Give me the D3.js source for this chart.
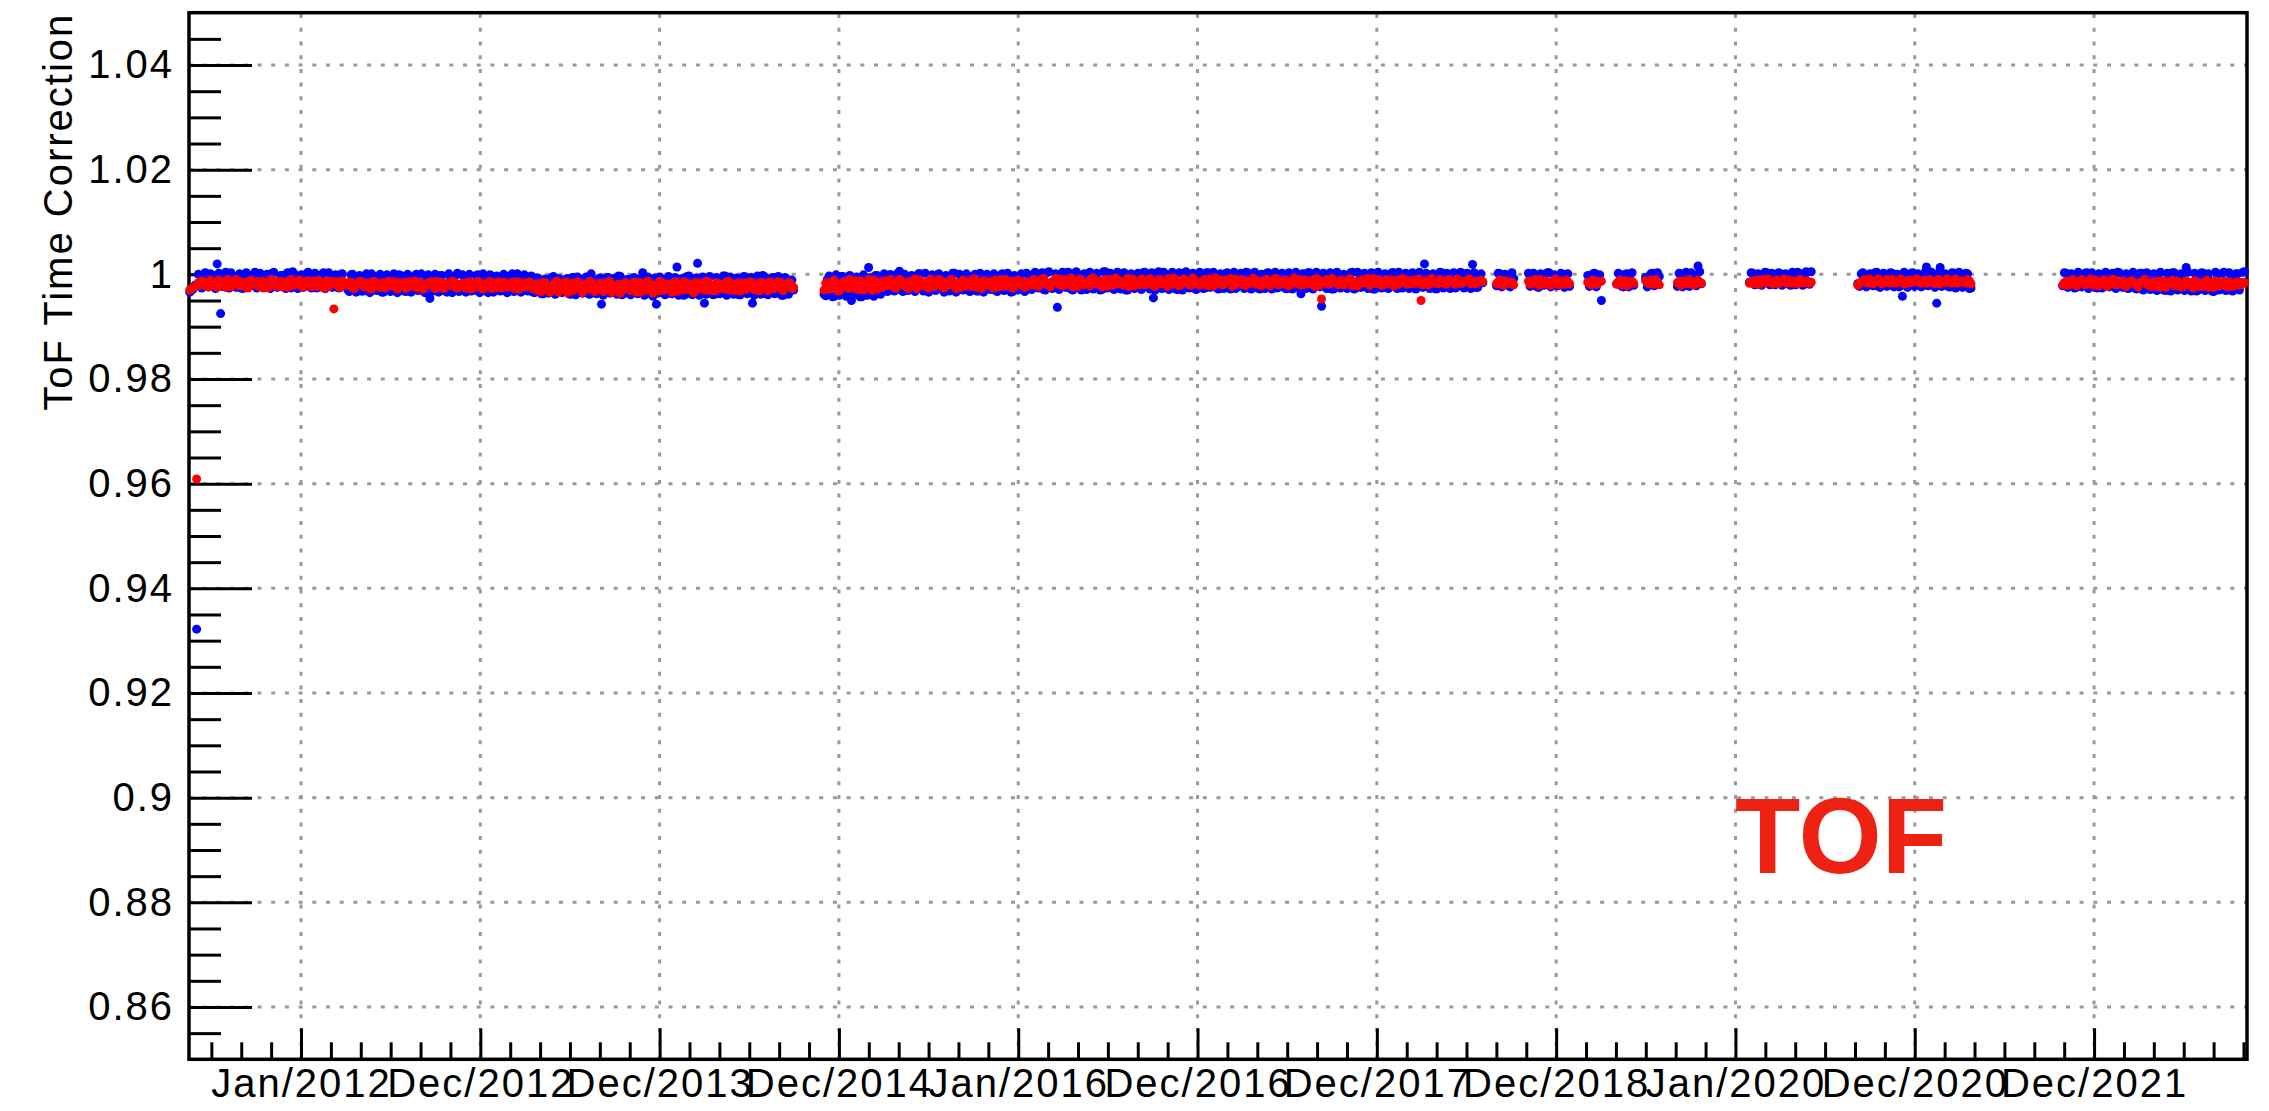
<!DOCTYPE html>
<html lang="en">

<head>
    <meta charset="UTF-8">
    <title>ToF Time Correction</title>
    <script src="https://cdnjs.cloudflare.com/ajax/libs/d3/7.8.5/d3.min.js" type="text/JavaScript"></script>
    <style>
        body { margin: 0; background: #fff; }
        svg { display: block; }
        text { font-family: "Liberation Sans", Arial, Helvetica, sans-serif; }
    </style>
</head>

<body>
    <svg width="2269" height="1111"></svg>
    <script>
        // axis ticks
        const xTickStart = "2012-01-01T00:00:00Z"
        const xTickStepDays = 365.8
        const xTickLabels = ["Jan/2012", "Dec/2012", "Dec/2013", "Dec/2014", "Jan/2016", "Dec/2016",
            "Dec/2017", "Dec/2018", "Jan/2020", "Dec/2020", "Dec/2021"]
        const yTicks = [0.86, 0.88, 0.9, 0.92, 0.94, 0.96, 0.98, 1, 1.02, 1.04]
        const yTickLabels = ["0.86", "0.88", "0.9", "0.92", "0.94", "0.96", "0.98", "1", "1.02", "1.04"]

        // data taking periods: one point per week, plus a mid-week point
        const runStarts = ["2011-05-19", "2014-12-03", "2018-09-05", "2018-11-09", "2019-03-10", "2019-05-08",
            "2019-07-06", "2019-09-09", "2020-02-03", "2020-09-11", "2021-11-03"]
        const stepDays = 7

        // blue series, weekly points
        const blue1 = [0.9966, 0.9972, 0.9322, 0.9981, 0.9995, 0.9978, 1.0001, 0.9986, 1.0020, 0.9925,
            0.9999, 0.9976, 1.0003, 0.9984, 0.9993, 0.9974, 1.0000, 0.9989, 0.9979, 1.0004,
            0.9982, 0.9997, 0.9975, 0.9991, 1.0002, 0.9978, 0.9987, 0.9998, 0.9973, 0.9994,
            1.0005, 0.9980, 0.9990, 0.9976, 1.0001, 0.9985, 0.9996, 0.9974, 0.9992, 1.0003,
            0.9979, 0.9988, 0.9997, 0.9975, 1.0000, 0.9983, 0.9971, 0.9999, 0.9978, 0.9990,
            0.9968, 0.9995, 0.9984, 1.0001, 0.9972, 0.9988, 0.9966, 0.9997, 0.9980, 0.9992,
            0.9970, 0.9999, 0.9986, 0.9967, 0.9994, 0.9976, 1.0000, 0.9983, 0.9969, 0.9996,
            0.9954, 0.9989, 0.9973, 0.9998, 0.9981, 0.9966, 0.9993, 0.9978, 1.0002, 0.9970,
            0.9987, 0.9996, 0.9968, 0.9983, 0.9999, 0.9974, 0.9991, 0.9965, 0.9997, 0.9980,
            0.9971, 0.9994, 0.9985, 0.9967, 1.0001, 0.9977, 0.9990, 0.9969, 0.9996, 0.9982,
            0.9966, 0.9993, 0.9975, 0.9963, 0.9989, 0.9980, 0.9996, 0.9968, 0.9985, 0.9972,
            0.9992, 0.9962, 0.9979, 0.9995, 0.9970, 0.9987, 0.9964, 1.0001, 0.9976, 0.9990,
            0.9943, 0.9983, 0.9994, 0.9966, 0.9978, 0.9997, 0.9961, 0.9988, 0.9973, 0.9992,
            0.9965, 0.9984, 1.0003, 0.9970, 0.9989, 0.9958, 0.9943, 0.9995, 0.9977, 0.9963,
            0.9991, 0.9968, 1.0014, 0.9981, 0.9960, 0.9996, 0.9974, 0.9987, 1.0021, 0.9966,
            0.9945, 0.9993, 0.9979, 0.9962, 0.9990, 0.9971, 0.9997, 0.9965, 0.9984, 0.9992,
            0.9961, 0.9977, 0.9995, 0.9968, 0.9945, 0.9988, 0.9973, 0.9998, 0.9963, 0.9983,
            0.9994, 0.9967, 0.9986, 0.9960, 0.9991, 0.9975, 0.9970]
        const blue2 = [0.9962, 0.9991, 0.9975, 0.9958, 0.9987, 0.9996, 0.9968, 0.9982, 0.9950, 0.9993,
            0.9971, 0.9957, 0.9989, 1.0013, 0.9978, 0.9998, 0.9965, 0.9985, 0.9969, 0.9999,
            0.9977, 0.9990, 1.0006, 0.9967, 0.9983, 0.9996, 0.9972, 0.9988, 1.0001, 0.9968,
            0.9980, 0.9994, 0.9974, 0.9999, 0.9986, 0.9966, 0.9991, 0.9979, 1.0002, 0.9970,
            0.9987, 0.9997, 0.9973, 0.9984, 1.0000, 0.9968, 0.9992, 0.9981, 0.9975, 0.9998,
            0.9969, 0.9989, 1.0001, 0.9977, 0.9985, 0.9967, 0.9995, 0.9982, 0.9972, 1.0002,
            0.9986, 0.9974, 0.9999, 0.9990, 0.9971, 1.0003, 0.9983, 0.9977, 0.9937, 0.9996,
            0.9980, 1.0004, 0.9972, 0.9991, 0.9986, 0.9970, 1.0001, 0.9984, 0.9975, 0.9998,
            0.9989, 0.9971, 1.0005, 0.9981, 0.9994, 0.9974, 0.9987, 1.0002, 0.9970, 0.9992,
            0.9983, 0.9999, 0.9976, 1.0003, 0.9988, 0.9972, 0.9955, 0.9995, 0.9980, 1.0004,
            0.9974, 0.9990, 0.9997, 0.9971, 0.9985, 1.0002, 0.9978, 0.9993, 0.9973, 0.9999,
            0.9986, 0.9974, 1.0003, 0.9981, 0.9995, 0.9972, 0.9989, 1.0001, 0.9977, 0.9992,
            0.9973, 0.9998, 0.9984, 1.0004, 0.9975, 0.9990, 0.9996, 0.9972, 0.9987, 1.0002,
            0.9979, 0.9993, 0.9974, 1.0000, 0.9985, 0.9973, 0.9997, 0.9982, 0.9976, 0.9963,
            0.9991, 1.0003, 0.9975, 0.9988, 0.9998, 0.9939, 0.9980, 0.9994, 0.9972, 1.0001,
            0.9986, 0.9976, 0.9996, 0.9983, 1.0004, 0.9974, 0.9990, 0.9999, 0.9978, 0.9993,
            0.9972, 1.0002, 0.9987, 0.9975, 0.9997, 0.9981, 1.0003, 0.9973, 0.9992, 0.9985,
            0.9977, 0.9999, 0.9974, 0.9989, 1.0001, 1.0020, 0.9980, 0.9995, 0.9973, 0.9990,
            1.0003, 0.9976, 0.9986, 0.9998, 0.9974, 0.9993, 1.0002, 0.9979, 0.9988, 1.0019,
            0.9975, 0.9996, 0.9984]
        const blue3 = [0.9978, 1.0001, 0.9987, 0.9996, 0.9976, 0.9992]
        const blue4 = [1.0002, 0.9980, 0.9994, 0.9975, 0.9999, 0.9986, 1.0003, 0.9978, 0.9991, 0.9997, 0.9983, 1.0000, 0.9977]
        const blue5 = [0.9998, 0.9979, 1.0002, 0.9988, 0.9950]
        const blue6 = [0.9982, 0.9999, 0.9976, 1.0001, 0.9989, 0.9979]
        const blue7 = [0.9994, 0.9985, 1.0002, 0.9980, 0.9996]
        const blue8 = [0.9977, 1.0001, 0.9990, 0.9979, 1.0003, 0.9985, 1.0016, 0.9982]
        const blue9 = [0.9985, 1.0002, 0.9981, 0.9996, 0.9990, 1.0003, 0.9980, 0.9994, 0.9987, 1.0001,
            0.9983, 0.9998, 0.9979, 0.9992, 1.0004, 0.9986, 0.9997, 0.9982, 1.0005]
        const blue10 = [0.9982, 1.0001, 0.9979, 0.9994, 0.9987, 1.0003, 0.9977, 0.9990, 0.9998, 0.9981,
            1.0002, 0.9985, 0.9976, 0.9958, 0.9996, 0.9988, 1.0003, 0.9980, 0.9993, 0.9978,
            1.0014, 0.9986, 0.9999, 0.9945, 1.0013, 0.9983, 0.9991, 0.9976, 1.0002, 0.9988,
            0.9996, 0.9979, 1.0001, 0.9974]
        const blue11 = [0.9978, 1.0002, 0.9985, 0.9994, 0.9975, 0.9999, 0.9988, 1.0003, 0.9980, 0.9992,
            0.9974, 0.9997, 1.0001, 0.9983, 0.9990, 0.9976, 1.0004, 0.9986, 0.9995, 0.9973,
            0.9999, 0.9982, 0.9991, 1.0002, 0.9977, 0.9988, 0.9996, 0.9971, 1.0001, 0.9984,
            0.9969, 0.9993, 1.0003, 0.9976, 0.9989, 0.9998, 1.0013, 0.9972, 0.9985, 0.9968,
            0.9995, 1.0002, 0.9974, 0.9987, 0.9967, 0.9999, 0.9981, 1.0004, 0.9970, 0.9992,
            0.9976, 1.0001, 0.9984, 1.0005]

        // blue series, mid-week points
        const blue1m = [0.9969, 0.9979, 1.0000, 0.9974, 1.0003, 0.9976, 0.9999, 0.9973, 1.0002, 0.9977,
            1.0004, 0.9974, 0.9998, 0.9975, 1.0001, 0.9973, 1.0003, 0.9978, 0.9999, 0.9974,
            1.0002, 0.9976, 1.0000, 0.9973, 1.0004, 0.9975, 0.9998, 0.9977, 1.0003, 0.9974,
            1.0001, 0.9973, 0.9999, 0.9976, 1.0004, 0.9974, 1.0002, 0.9978, 1.0000, 0.9973,
            1.0003, 0.9975, 0.9999, 0.9974, 1.0001, 0.9977, 0.9967, 1.0000, 0.9966, 0.9998,
            0.9968, 1.0001, 0.9965, 0.9997, 0.9969, 1.0000, 0.9966, 0.9999, 0.9967, 1.0001,
            0.9965, 0.9998, 0.9968, 1.0000, 0.9966, 0.9997, 0.9969, 1.0001, 0.9965, 0.9999,
            0.9967, 1.0000, 0.9966, 0.9998, 0.9968, 1.0001, 0.9965, 0.9997, 0.9967, 0.9999,
            0.9966, 1.0000, 0.9969, 0.9998, 0.9965, 1.0001, 0.9967, 0.9999, 0.9966, 0.9997,
            0.9968, 1.0000, 0.9965, 0.9998, 0.9967, 1.0001, 0.9966, 0.9999, 0.9968, 0.9997,
            0.9965, 0.9993, 0.9963, 0.9991, 0.9964, 0.9994, 0.9962, 0.9992, 0.9965, 0.9990,
            0.9963, 0.9994, 0.9961, 0.9992, 0.9964, 0.9995, 0.9962, 0.9991, 0.9963, 0.9993,
            0.9960, 0.9994, 0.9964, 0.9992, 0.9962, 0.9996, 0.9963, 0.9990, 0.9961, 0.9994,
            0.9963, 0.9992, 0.9960, 0.9995, 0.9962, 0.9993, 0.9964, 0.9991, 0.9961, 0.9996,
            0.9963, 0.9994, 0.9960, 0.9992, 0.9962, 0.9997, 0.9961, 0.9993, 0.9960, 0.9995,
            0.9962, 0.9996, 0.9961, 0.9994, 0.9963, 0.9997, 0.9960, 0.9995, 0.9962, 0.9993,
            0.9961, 0.9996, 0.9963, 0.9994, 0.9960, 0.9997, 0.9962, 0.9995, 0.9961, 0.9993,
            0.9963, 0.9996, 0.9960, 0.9994, 0.9962, 0.9989]
        const blue2m = [0.9959, 0.9997, 0.9957, 0.9999, 0.9960, 0.9996, 0.9958, 0.9998, 0.9961, 0.9995,
            0.9957, 0.9999, 0.9960, 0.9994, 0.9958, 0.9998, 0.9962, 1.0001, 0.9967, 0.9999,
            0.9968, 1.0002, 0.9970, 1.0000, 0.9969, 0.9998, 0.9967, 1.0001, 0.9972, 1.0002,
            0.9966, 0.9999, 0.9969, 1.0001, 0.9971, 0.9998, 0.9968, 1.0002, 0.9966, 1.0000,
            0.9970, 1.0001, 0.9967, 0.9997, 0.9968, 1.0002, 0.9966, 1.0000, 0.9971, 1.0001,
            0.9967, 0.9999, 0.9969, 1.0002, 0.9966, 0.9998, 0.9970, 1.0001, 0.9967, 0.9999,
            0.9971, 1.0004, 0.9974, 1.0003, 0.9970, 1.0005, 0.9973, 1.0001, 0.9971, 1.0004,
            0.9975, 1.0003, 0.9970, 1.0005, 0.9973, 1.0000, 0.9971, 1.0004, 0.9972, 1.0002,
            0.9970, 1.0005, 0.9974, 1.0002, 0.9971, 1.0004, 0.9972, 1.0003, 0.9970, 1.0001,
            0.9973, 1.0002, 0.9971, 1.0004, 0.9975, 1.0003, 0.9970, 1.0005, 0.9973, 1.0000,
            0.9971, 1.0004, 0.9972, 1.0003, 0.9970, 1.0005, 0.9974, 1.0002, 0.9971, 1.0004,
            0.9973, 1.0003, 0.9975, 1.0004, 0.9974, 1.0001, 0.9973, 1.0003, 0.9972, 1.0004,
            0.9976, 1.0002, 0.9973, 1.0003, 0.9972, 1.0004, 0.9974, 1.0000, 0.9973, 1.0003,
            0.9972, 1.0004, 0.9975, 1.0002, 0.9973, 1.0003, 0.9972, 1.0004, 0.9974, 1.0001,
            0.9973, 1.0003, 0.9972, 1.0004, 0.9976, 1.0002, 0.9973, 1.0003, 0.9972, 1.0004,
            0.9974, 1.0000, 0.9973, 1.0003, 0.9972, 1.0004, 0.9975, 1.0002, 0.9973, 1.0003,
            0.9972, 1.0004, 0.9974, 1.0001, 0.9973, 1.0003, 0.9976, 1.0004, 0.9974, 1.0002,
            0.9973, 1.0003, 0.9972, 1.0004, 0.9975, 1.0002, 0.9973, 1.0001, 0.9972, 1.0004,
            0.9974, 1.0002, 0.9973, 1.0003, 0.9976, 1.0004, 0.9974, 1.0002, 0.9973, 1.0003,
            0.9975, 1.0001]
        const blue3m = [1.0002, 0.9976, 1.0000, 0.9978, 1.0003]
        const blue4m = [0.9977, 1.0002, 0.9976, 1.0001, 0.9979, 1.0003, 0.9976, 0.9999, 0.9978, 1.0002, 0.9975, 1.0001]
        const blue5m = [0.9977, 1.0001, 0.9976, 0.9999]
        const blue6m = [1.0002, 0.9977, 1.0000, 0.9976, 1.0003]
        const blue7m = [0.9976, 1.0001, 0.9978, 1.0003]
        const blue8m = [1.0002, 0.9976, 1.0004, 0.9977, 0.9999, 0.9978, 1.0005]
        const blue9m = [1.0003, 0.9980, 1.0001, 0.9979, 1.0004, 0.9982, 1.0002, 0.9980, 1.0003, 0.9979,
            1.0001, 0.9981, 1.0004, 0.9980, 1.0002, 0.9979, 1.0005, 0.9981]
        const blue10m = [0.9977, 1.0003, 0.9976, 1.0001, 0.9978, 1.0004, 0.9975, 1.0002, 0.9977, 1.0003,
            0.9976, 1.0000, 0.9978, 1.0004, 0.9975, 1.0002, 0.9977, 1.0001, 0.9976, 1.0003,
            0.9978, 1.0004, 0.9975, 1.0002, 0.9977, 1.0001, 0.9976, 1.0003, 0.9974, 1.0004,
            0.9975, 1.0002, 0.9973]
        const blue11m = [1.0003, 0.9975, 1.0001, 0.9974, 1.0004, 0.9976, 1.0002, 0.9973, 1.0003, 0.9975,
            1.0001, 0.9974, 1.0004, 0.9976, 1.0002, 0.9973, 1.0003, 0.9975, 1.0001, 0.9974,
            1.0004, 0.9972, 1.0002, 0.9970, 1.0003, 0.9971, 1.0001, 0.9969, 1.0004, 0.9970,
            1.0002, 0.9968, 1.0003, 0.9970, 1.0001, 0.9969, 1.0004, 0.9968, 1.0002, 0.9970,
            1.0003, 0.9969, 1.0001, 0.9968, 1.0004, 0.9970, 1.0002, 0.9969, 1.0003, 0.9968,
            1.0001, 0.9970, 1.0004]

        // red series, weekly points
        const red1 = [0.9970, 0.9975, 0.9609, 0.9979, 0.9986, 0.9977, 0.9989, 0.9982, 0.9975, 0.9987,
            0.9980, 0.9990, 0.9976, 0.9984, 0.9988, 0.9978, 0.9985, 0.9974, 0.9989, 0.9981,
            0.9977, 0.9987, 0.9983, 0.9975, 0.9990, 0.9979, 0.9986, 0.9976, 0.9984, 0.9988,
            0.9978, 0.9982, 0.9989, 0.9975, 0.9985, 0.9980, 0.9987, 0.9977, 0.9983, 0.9974,
            0.9988, 0.9981, 0.9934, 0.9986, 0.9976, 0.9984, 0.9979, 0.9985, 0.9973, 0.9982,
            0.9987, 0.9976, 0.9980, 0.9972, 0.9986, 0.9978, 0.9983, 0.9974, 0.9987, 0.9979,
            0.9975, 0.9984, 0.9981, 0.9973, 0.9986, 0.9977, 0.9982, 0.9985, 0.9972, 0.9980,
            0.9984, 0.9976, 0.9987, 0.9979, 0.9973, 0.9983, 0.9978, 0.9986, 0.9974, 0.9981,
            0.9977, 0.9985, 0.9972, 0.9982, 0.9987, 0.9975, 0.9980, 0.9984, 0.9973, 0.9978,
            0.9986, 0.9974, 0.9981, 0.9976, 0.9985, 0.9979, 0.9972, 0.9983, 0.9977, 0.9986,
            0.9973, 0.9980, 0.9968, 0.9984, 0.9975, 0.9966, 0.9981, 0.9987, 0.9971, 0.9978,
            0.9965, 0.9983, 0.9974, 0.9986, 0.9969, 0.9979, 0.9972, 0.9985, 0.9967, 0.9977,
            0.9982, 0.9970, 0.9986, 0.9965, 0.9976, 0.9981, 0.9968, 0.9984, 0.9973, 0.9979,
            0.9966, 0.9985, 0.9975, 0.9970, 0.9983, 0.9964, 0.9978, 0.9987, 0.9969, 0.9980,
            0.9973, 0.9984, 0.9967, 0.9977, 0.9986, 0.9971, 0.9981, 0.9965, 0.9979, 0.9983,
            0.9970, 0.9986, 0.9975, 0.9968, 0.9982, 0.9978, 0.9972, 0.9987, 0.9976, 0.9969,
            0.9984, 0.9979, 0.9971, 0.9985, 0.9974, 0.9981, 0.9968, 0.9983, 0.9977, 0.9986,
            0.9972, 0.9980, 0.9985, 0.9969, 0.9978, 0.9983, 0.9975]
        const red2 = [0.9970, 0.9984, 0.9976, 0.9989, 0.9968, 0.9981, 0.9986, 0.9973, 0.9979, 0.9988,
            0.9971, 0.9983, 0.9977, 0.9990, 0.9969, 0.9980, 0.9985, 0.9975, 0.9988, 0.9979,
            0.9984, 0.9974, 0.9990, 0.9980, 0.9976, 0.9987, 0.9982, 0.9973, 0.9989, 0.9978,
            0.9985, 0.9991, 0.9976, 0.9983, 0.9988, 0.9974, 0.9981, 0.9990, 0.9979, 0.9984,
            0.9975, 0.9987, 0.9982, 0.9977, 0.9991, 0.9980, 0.9973, 0.9986, 0.9983, 0.9978,
            0.9989, 0.9976, 0.9984, 0.9990, 0.9979, 0.9974, 0.9987, 0.9981, 0.9985, 0.9977,
            0.9983, 0.9990, 0.9978, 0.9986, 0.9992, 0.9980, 0.9976, 0.9988, 0.9984, 0.9991,
            0.9979, 0.9986, 0.9993, 0.9982, 0.9977, 0.9989, 0.9985, 0.9980, 0.9992, 0.9983,
            0.9987, 0.9976, 0.9990, 0.9984, 0.9979, 0.9993, 0.9986, 0.9981, 0.9988, 0.9977,
            0.9991, 0.9985, 0.9980, 0.9989, 0.9983, 0.9992, 0.9978, 0.9986, 0.9990, 0.9982,
            0.9977, 0.9988, 0.9993, 0.9984, 0.9980, 0.9991, 0.9986, 0.9979, 0.9989, 0.9985,
            0.9982, 0.9990, 0.9978, 0.9987, 0.9993, 0.9983, 0.9980, 0.9989, 0.9985, 0.9977,
            0.9991, 0.9984, 0.9988, 0.9979, 0.9986, 0.9992, 0.9981, 0.9987, 0.9983, 0.9990,
            0.9978, 0.9985, 0.9991, 0.9982, 0.9988, 0.9980, 0.9986, 0.9993, 0.9984, 0.9979,
            0.9989, 0.9983, 0.9987, 0.9977, 0.9990, 0.9953, 0.9985, 0.9981, 0.9992, 0.9986,
            0.9980, 0.9988, 0.9984, 0.9991, 0.9978, 0.9986, 0.9982, 0.9989, 0.9985, 0.9979,
            0.9992, 0.9983, 0.9987, 0.9980, 0.9990, 0.9985, 0.9978, 0.9988, 0.9984, 0.9991,
            0.9981, 0.9986, 0.9989, 0.9983, 0.9950, 0.9987, 0.9980, 0.9992, 0.9985, 0.9982,
            0.9988, 0.9984, 0.9990, 0.9986, 0.9981, 0.9989, 0.9983, 0.9987, 0.9991, 0.9985,
            0.9982, 0.9988, 0.9986]
        const red3 = [0.9982, 0.9989, 0.9979, 0.9986, 0.9984, 0.9980]
        const red4 = [0.9987, 0.9983, 0.9990, 0.9979, 0.9985, 0.9988, 0.9981, 0.9986, 0.9991, 0.9980, 0.9984, 0.9989, 0.9982]
        const red5 = [0.9985, 0.9980, 0.9988, 0.9983, 0.9987]
        const red6 = [0.9981, 0.9989, 0.9984, 0.9978, 0.9986, 0.9983]
        const red7 = [0.9988, 0.9982, 0.9985, 0.9990, 0.9980]
        const red8 = [0.9984, 0.9979, 0.9988, 0.9982, 0.9986, 0.9980, 0.9989, 0.9983]
        const red9 = [0.9983, 0.9988, 0.9985, 0.9981, 0.9990, 0.9984, 0.9987, 0.9982, 0.9989, 0.9985,
            0.9991, 0.9983, 0.9986, 0.9988, 0.9982, 0.9990, 0.9984, 0.9987, 0.9985]
        const red10 = [0.9979, 0.9986, 0.9990, 0.9983, 0.9988, 0.9985, 0.9991, 0.9982, 0.9987, 0.9984,
            0.9990, 0.9983, 0.9988, 0.9985, 0.9982, 0.9989, 0.9986, 0.9991, 0.9984, 0.9987,
            0.9983, 0.9990, 0.9985, 0.9988, 0.9982, 0.9986, 0.9991, 0.9984, 0.9989, 0.9983,
            0.9987, 0.9985, 0.9990, 0.9982]
        const red11 = [0.9980, 0.9987, 0.9983, 0.9990, 0.9978, 0.9985, 0.9988, 0.9982, 0.9991, 0.9979,
            0.9986, 0.9983, 0.9989, 0.9977, 0.9984, 0.9990, 0.9981, 0.9987, 0.9979, 0.9985,
            0.9988, 0.9982, 0.9976, 0.9986, 0.9990, 0.9980, 0.9984, 0.9977, 0.9987, 0.9982,
            0.9975, 0.9985, 0.9989, 0.9979, 0.9983, 0.9976, 0.9988, 0.9981, 0.9974, 0.9986,
            0.9980, 0.9977, 0.9989, 0.9983, 0.9975, 0.9985, 0.9979, 0.9987, 0.9976, 0.9982,
            0.9978, 0.9986, 0.9980, 0.9984]

        // red series, mid-week points
        const red1m = [0.9972, 0.9977, 0.9984, 0.9988, 0.9980, 0.9976, 0.9986, 0.9979, 0.9989, 0.9983,
            0.9975, 0.9987, 0.9981, 0.9990, 0.9978, 0.9984, 0.9976, 0.9988, 0.9982, 0.9986,
            0.9979, 0.9974, 0.9985, 0.9989, 0.9981, 0.9977, 0.9987, 0.9983, 0.9975, 0.9990,
            0.9980, 0.9986, 0.9978, 0.9984, 0.9988, 0.9976, 0.9982, 0.9989, 0.9979, 0.9985,
            0.9977, 0.9987, 0.9983, 0.9975, 0.9988, 0.9980, 0.9985, 0.9974, 0.9981, 0.9986,
            0.9978, 0.9983, 0.9973, 0.9987, 0.9980, 0.9975, 0.9984, 0.9977, 0.9982, 0.9986,
            0.9972, 0.9979, 0.9985, 0.9976, 0.9983, 0.9987, 0.9974, 0.9981, 0.9978, 0.9984,
            0.9986, 0.9973, 0.9980, 0.9985, 0.9977, 0.9982, 0.9987, 0.9975, 0.9979, 0.9983,
            0.9974, 0.9986, 0.9981, 0.9976, 0.9984, 0.9972, 0.9979, 0.9987, 0.9982, 0.9975,
            0.9980, 0.9985, 0.9977, 0.9983, 0.9973, 0.9986, 0.9981, 0.9976, 0.9984, 0.9979,
            0.9971, 0.9982, 0.9967, 0.9985, 0.9976, 0.9970, 0.9983, 0.9966, 0.9979, 0.9986,
            0.9973, 0.9968, 0.9984, 0.9977, 0.9965, 0.9981, 0.9987, 0.9970, 0.9975, 0.9983,
            0.9967, 0.9980, 0.9986, 0.9972, 0.9978, 0.9964, 0.9983, 0.9975, 0.9969, 0.9985,
            0.9977, 0.9966, 0.9982, 0.9987, 0.9971, 0.9979, 0.9968, 0.9984, 0.9974, 0.9981,
            0.9966, 0.9986, 0.9976, 0.9970, 0.9983, 0.9979, 0.9967, 0.9985, 0.9972, 0.9980,
            0.9987, 0.9969, 0.9977, 0.9984, 0.9973, 0.9980, 0.9986, 0.9970, 0.9982, 0.9975,
            0.9968, 0.9983, 0.9978, 0.9986, 0.9971, 0.9980, 0.9985, 0.9974, 0.9969, 0.9982,
            0.9977, 0.9986, 0.9971, 0.9981, 0.9984, 0.9973]
        const red2m = [0.9983, 0.9972, 0.9987, 0.9978, 0.9969, 0.9985, 0.9980, 0.9990, 0.9974, 0.9982,
            0.9988, 0.9970, 0.9984, 0.9976, 0.9989, 0.9972, 0.9981, 0.9986, 0.9978, 0.9990,
            0.9975, 0.9983, 0.9988, 0.9979, 0.9973, 0.9986, 0.9991, 0.9977, 0.9984, 0.9980,
            0.9974, 0.9988, 0.9982, 0.9990, 0.9976, 0.9985, 0.9979, 0.9987, 0.9973, 0.9983,
            0.9989, 0.9978, 0.9985, 0.9991, 0.9975, 0.9982, 0.9988, 0.9979, 0.9986, 0.9974,
            0.9984, 0.9990, 0.9977, 0.9983, 0.9987, 0.9976, 0.9989, 0.9981, 0.9975, 0.9986,
            0.9980, 0.9988, 0.9977, 0.9991, 0.9984, 0.9979, 0.9986, 0.9992, 0.9981, 0.9978,
            0.9989, 0.9983, 0.9976, 0.9987, 0.9991, 0.9980, 0.9985, 0.9978, 0.9993, 0.9984,
            0.9981, 0.9988, 0.9977, 0.9990, 0.9985, 0.9982, 0.9987, 0.9979, 0.9992, 0.9984,
            0.9978, 0.9986, 0.9991, 0.9980, 0.9988, 0.9984, 0.9977, 0.9990, 0.9983, 0.9987,
            0.9992, 0.9981, 0.9985, 0.9978, 0.9989, 0.9986, 0.9980, 0.9993, 0.9984, 0.9979,
            0.9987, 0.9983, 0.9991, 0.9978, 0.9985, 0.9989, 0.9981, 0.9986, 0.9992, 0.9980,
            0.9984, 0.9990, 0.9979, 0.9987, 0.9983, 0.9991, 0.9985, 0.9978, 0.9988, 0.9982,
            0.9986, 0.9992, 0.9980, 0.9984, 0.9989, 0.9978, 0.9987, 0.9983, 0.9990, 0.9985,
            0.9981, 0.9988, 0.9984, 0.9992, 0.9979, 0.9986, 0.9990, 0.9982, 0.9987, 0.9983,
            0.9989, 0.9980, 0.9985, 0.9991, 0.9983, 0.9978, 0.9988, 0.9984, 0.9992, 0.9981,
            0.9986, 0.9990, 0.9979, 0.9987, 0.9983, 0.9989, 0.9985, 0.9981, 0.9992, 0.9984,
            0.9988, 0.9982, 0.9986, 0.9991, 0.9980, 0.9985, 0.9989, 0.9983, 0.9987, 0.9990,
            0.9984, 0.9981, 0.9988, 0.9985, 0.9991, 0.9983, 0.9986, 0.9989, 0.9982, 0.9987,
            0.9985, 0.9989]
        const red3m = [0.9986, 0.9981, 0.9988, 0.9983, 0.9985]
        const red4m = [0.9981, 0.9988, 0.9984, 0.9990, 0.9982, 0.9986, 0.9979, 0.9989, 0.9983, 0.9987, 0.9981, 0.9986]
        const red5m = [0.9982, 0.9989, 0.9981, 0.9986]
        const red6m = [0.9986, 0.9980, 0.9988, 0.9982, 0.9987]
        const red7m = [0.9984, 0.9989, 0.9981, 0.9986]
        const red8m = [0.9987, 0.9983, 0.9985, 0.9990, 0.9981, 0.9986, 0.9984]
        const red9m = [0.9986, 0.9982, 0.9989, 0.9984, 0.9987, 0.9991, 0.9983, 0.9986, 0.9982, 0.9988,
            0.9985, 0.9989, 0.9983, 0.9986, 0.9990, 0.9984, 0.9988, 0.9983]
        const red10m = [0.9983, 0.9988, 0.9985, 0.9991, 0.9982, 0.9986, 0.9989, 0.9984, 0.9990, 0.9983,
            0.9987, 0.9985, 0.9991, 0.9982, 0.9988, 0.9984, 0.9986, 0.9990, 0.9983, 0.9989,
            0.9985, 0.9987, 0.9982, 0.9990, 0.9986, 0.9984, 0.9988, 0.9983, 0.9991, 0.9985,
            0.9987, 0.9983, 0.9988]
        const red11m = [0.9984, 0.9979, 0.9988, 0.9982, 0.9986, 0.9990, 0.9980, 0.9985, 0.9983, 0.9989,
            0.9978, 0.9987, 0.9982, 0.9986, 0.9991, 0.9980, 0.9984, 0.9988, 0.9977, 0.9983,
            0.9986, 0.9979, 0.9984, 0.9989, 0.9981, 0.9977, 0.9986, 0.9982, 0.9975, 0.9988,
            0.9980, 0.9984, 0.9978, 0.9987, 0.9976, 0.9982, 0.9985, 0.9979, 0.9988, 0.9977,
            0.9983, 0.9986, 0.9975, 0.9981, 0.9988, 0.9978, 0.9984, 0.9980, 0.9986, 0.9977,
            0.9983, 0.9979, 0.9985]

        const blueRuns = [blue1, blue2, blue3, blue4, blue5, blue6, blue7, blue8, blue9, blue10, blue11]
        const blueMidRuns = [blue1m, blue2m, blue3m, blue4m, blue5m, blue6m, blue7m, blue8m, blue9m, blue10m, blue11m]
        const redRuns = [red1, red2, red3, red4, red5, red6, red7, red8, red9, red10, red11]
        const redMidRuns = [red1m, red2m, red3m, red4m, red5m, red6m, red7m, red8m, red9m, red10m, red11m]

        const DAY = 864e5
        const font = "'Liberation Sans', Arial, Helvetica, sans-serif"

        const svg = d3.select("svg")

        const x = d3.scaleUtc()
            .domain([new Date("2011-05-17T12:00:00Z"), new Date("2022-11-14T00:00:00Z")])
            .range([189, 2247])
        const y = d3.scaleLinear().domain([0.85, 1.05]).range([1059.3, 12.7])

        const t0 = +new Date(xTickStart)
        const majorDates = xTickLabels.map((_, k) => new Date(t0 + k * xTickStepDays * DAY))
        const minorDates = d3.range(-3, 66).filter(i => i % 6 !== 0)
            .map(i => new Date(t0 + i * xTickStepDays / 6 * DAY))
        const yMinor = d3.range(171, 210).map(i => i / 200).filter(v => !yTicks.some(t => Math.abs(t - v) < 1e-9))

        function toPoints(runs, offsetDays) {
            return runs.flatMap((vals, k) => {
                const start = +new Date(runStarts[k] + "T00:00:00Z") + offsetDays * DAY
                return vals.map((v, i) => ({ t: new Date(start + i * stepDays * DAY), v: v }))
            })
        }

        // grid
        const grid = svg.append("g")
            .attr("stroke", "#999")
            .attr("stroke-width", 3)
            .attr("stroke-dasharray", "4,9.7")
        grid.selectAll("line.gx")
            .data(majorDates)
            .join("line")
            .attr("class", "gx")
            .attr("x1", d => x(d)).attr("x2", d => x(d))
            .attr("y1", y(0.85)).attr("y2", y(1.05))
        grid.selectAll("line.gy")
            .data(yTicks)
            .join("line")
            .attr("class", "gy")
            .attr("x1", x.range()[0]).attr("x2", x.range()[1])
            .attr("y1", d => y(d)).attr("y2", d => y(d))

        function styleAxis(g, size, spacing) {
            g.select(".domain").remove()
            g.selectAll("line").attr("stroke", "#000").attr("stroke-width", 3)
            g.selectAll("text")
                .attr("fill", "#000")
                .style("font-family", font)
                .style("font-size", size + "px")
                .style("letter-spacing", spacing + "px")
        }

        // x axis
        svg.append("g")
            .attr("transform", `translate(0,${y(0.85)})`)
            .call(d3.axisBottom(x).tickValues(majorDates).tickFormat((d, i) => xTickLabels[i])
                .tickSize(-31).tickSizeOuter(0).tickPadding(9))
            .call(g => styleAxis(g, 40, 2))
        svg.append("g")
            .attr("transform", `translate(0,${y(0.85)})`)
            .call(d3.axisBottom(x).tickValues(minorDates).tickFormat("").tickSize(-17).tickSizeOuter(0))
            .call(g => styleAxis(g, 40, 2))

        // y axis
        svg.append("g")
            .attr("transform", `translate(${x.range()[0]},0)`)
            .call(d3.axisLeft(y).tickValues(yTicks).tickFormat((d, i) => yTickLabels[i])
                .tickSize(-63).tickSizeOuter(0).tickPadding(15))
            .call(g => styleAxis(g, 40, 2))
        svg.append("g")
            .attr("transform", `translate(${x.range()[0]},0)`)
            .call(d3.axisLeft(y).tickValues(yMinor).tickFormat("").tickSize(-32).tickSizeOuter(0))
            .call(g => styleAxis(g, 40, 2))

        // frame
        svg.append("rect")
            .attr("x", x.range()[0])
            .attr("y", y(1.05))
            .attr("width", x.range()[1] - x.range()[0])
            .attr("height", y(0.85) - y(1.05))
            .attr("fill", "none")
            .attr("stroke", "#000")
            .attr("stroke-width", 3.5)

        // y title
        svg.append("text")
            .attr("transform", "rotate(-90)")
            .attr("x", -y(1.05))
            .attr("y", 72)
            .attr("text-anchor", "end")
            .style("font-family", font)
            .style("font-size", "40px")
            .style("letter-spacing", "2px")
            .text("ToF Time Correction")

        // markers
        function drawSeries(runs, midRuns, color) {
            svg.append("g")
                .selectAll("circle")
                .data(toPoints(runs, 0).concat(toPoints(midRuns, stepDays / 2)))
                .join("circle")
                .attr("cx", d => x(d.t))
                .attr("cy", d => y(d.v))
                .attr("r", 4.5)
                .attr("fill", color)
        }
        drawSeries(blueRuns, blueMidRuns, "#0000ff")
        drawSeries(redRuns, redMidRuns, "#ff0000")

        svg.append("text")
            .attr("x", 1735)
            .attr("y", 873)
            .attr("fill", "#ee2212")
            .style("font-family", font)
            .style("font-weight", "bold")
            .style("font-size", "107px")
            .text("TOF")
    </script>
</body>

</html>
